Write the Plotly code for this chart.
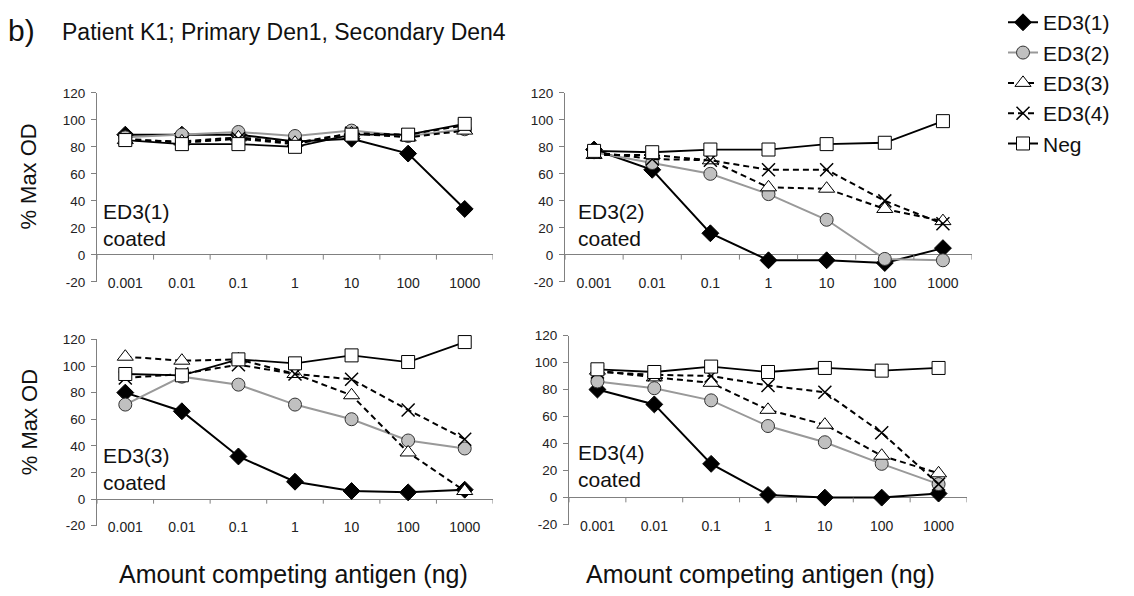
import plotly.graph_objects as go

# ---------------- data ----------------
categories = ["0.001", "0.01", "0.1", "1", "10", "100", "1000"]
series_names = ["ED3(1)", "ED3(2)", "ED3(3)", "ED3(4)", "Neg"]
y_ticks = [-20, 0, 20, 40, 60, 80, 100, 120]
y_tick_text = ["-20", "0", "20", "40", "60", "80", "100", "120"]

# Panel: ED3(1) coated
c1_ed31 = [89, 89, 89, 84, 86, 75, 34]
c1_ed32 = [87, 89, 91, 88, 92, 88, 93]
c1_ed33 = [85, 84, 87, 83, 90, 87, 92]
c1_ed34 = [86, 83, 86, 82, 90, 89, 96]
c1_neg = [85, 82, 82, 80, 89, 89, 97]

# Panel: ED3(2) coated
c2_ed31 = [78, 63, 16, -4, -4, -6, 5]
c2_ed32 = [76, 68, 60, 45, 26, -3, -4]
c2_ed33 = [74, 74, 70, 50, 49, 34, 25]
c2_ed34 = [76, 71, 70, 63, 63, 40, 23]
c2_neg = [77, 76, 78, 78, 82, 83, 99]

# Panel: ED3(3) coated
c3_ed31 = [80, 66, 32, 13, 6, 5, 7]
c3_ed32 = [71, 92, 86, 71, 60, 44, 38]
c3_ed33 = [107, 104, 105, 94, 78, 35, 6]
c3_ed34 = [91, 94, 101, 94, 90, 67, 45]
c3_neg = [94, 93, 105, 102, 108, 103, 118]

# Panel: ED3(4) coated
c4_ed31 = [80, 69, 25, 2, 0, 0, 3]
c4_ed32 = [86, 81, 72, 53, 41, 25, 10]
c4_ed33 = [94, 89, 85, 65, 54, 31, 18]
c4_ed34 = [93, 91, 90, 83, 78, 48, 10]
c4_neg = [95, 93, 97, 93, 96, 94, 96]

panel_labels = ["ED3(1)<br>coated", "ED3(2)<br>coated", "ED3(3)<br>coated", "ED3(4)<br>coated"]
panel_data = [
    [c1_ed31, c1_ed32, c1_ed33, c1_ed34, c1_neg],
    [c2_ed31, c2_ed32, c2_ed33, c2_ed34, c2_neg],
    [c3_ed31, c3_ed32, c3_ed33, c3_ed34, c3_neg],
    [c4_ed31, c4_ed32, c4_ed33, c4_ed34, c4_neg],
]

# ---------------- styling ----------------
W, H = 1134, 596
FONT = "Liberation Sans, Arial, sans-serif"
AXIS_GRAY = "#808080"

styles = [
    dict(line=dict(color="black", width=2),
         marker=dict(symbol="diamond", size=13, color="black", line=dict(color="black", width=1))),
    dict(line=dict(color="#999999", width=2),
         marker=dict(symbol="circle", size=13, color="#c0c0c0", line=dict(color="#333333", width=1))),
    dict(line=dict(color="black", width=2, dash="6px,4px"),
         marker=dict(symbol="triangle-up", size=14, color="white", line=dict(color="black", width=1))),
    dict(line=dict(color="black", width=2, dash="6px,4px"),
         marker=dict(symbol="x-thin", size=13, color="black", line=dict(color="black", width=1.5))),
    dict(line=dict(color="black", width=1.8),
         marker=dict(symbol="square", size=13, color="white", line=dict(color="black", width=1))),
]

# pixel boxes for the four panels: (x_left, x_right, y_top, y_bottom)
boxes = [
    (97, 493, 88, 282),
    (565, 972, 88, 282),
    (97, 493, 341, 532),
    (569, 967, 337, 531),
]
# panel label top-left positions in px
label_pos = [(101, 196), (576, 196), (101, 446), (576, 443)]

fig = go.Figure()
xidx = list(range(len(categories)))

for p, data in enumerate(panel_data):
    ax = "" if p == 0 else str(p + 1)
    for s, (name, vals) in enumerate(zip(series_names, data)):
        fig.add_trace(go.Scatter(
            x=xidx, y=vals, mode="lines+markers", name=name,
            legendgroup=name, showlegend=(p == 0),
            xaxis="x" + ax, yaxis="y" + ax, cliponaxis=False,
            **styles[s]))
    x0, x1, yt, yb = boxes[p]
    fig.layout["xaxis" + ax] = dict(
        domain=[x0 / W, x1 / W], anchor="y" + ax,
        range=[-0.5, len(categories) - 0.5],
        tickvals=xidx, ticktext=categories, ticklabelstandoff=-9,
        showline=False, showgrid=False, zeroline=False, ticks="",
        tickfont=dict(family=FONT, size=14, color="#222"), fixedrange=True)
    fig.layout["yaxis" + ax] = dict(
        domain=[1 - yb / H, 1 - yt / H], anchor="x" + ax,
        range=[-20, 120], tickvals=y_ticks, ticktext=y_tick_text,
        showline=True, linecolor=AXIS_GRAY, linewidth=1,
        ticks="outside", ticklen=5, tickcolor=AXIS_GRAY, ticklabelstandoff=3,
        showgrid=False, zeroline=True, zerolinecolor=AXIS_GRAY, zerolinewidth=1,
        tickfont=dict(family=FONT, size=13.5, color="#222"), fixedrange=True)
    # category boundary tick marks on the y=0 axis line
    for b in range(len(categories) + 1):
        fig.add_shape(type="line", xref="x" + ax, yref="y" + ax,
                      x0=b - 0.5, x1=b - 0.5, y0=0, y1=-3.5,
                      line=dict(color=AXIS_GRAY, width=1))
    # panel label
    lx, ly = label_pos[p]
    fig.add_annotation(text=panel_labels[p], xref="paper", yref="paper",
                       x=lx / W, y=1 - ly / H,
                       xanchor="left", yanchor="top", align="left", showarrow=False,
                       font=dict(family=FONT, size=21, color="#111"))

# y axis titles
for yc in [174, 426]:
    fig.add_annotation(text="% Max OD", xref="paper", yref="paper",
                       x=29 / W, y=1 - yc / H, textangle=-90, showarrow=False,
                       xanchor="center", yanchor="middle",
                       font=dict(family=FONT, size=22, color="#111"))
# x axis titles
for xc in [293, 760]:
    fig.add_annotation(text="Amount competing antigen (ng)", xref="paper", yref="paper",
                       x=xc / W, y=1 - 582 / H, showarrow=False,
                       xanchor="center", yanchor="middle",
                       font=dict(family=FONT, size=25, color="#111"))
# titles
fig.add_annotation(text="b)", xref="paper", yref="paper", x=6 / W, y=1 - 24 / H,
                   xanchor="left", yanchor="middle", showarrow=False,
                   font=dict(family=FONT, size=30, color="#111"))
fig.add_annotation(text="Patient K1; Primary Den1, Secondary Den4", xref="paper", yref="paper",
                   x=60 / W, y=1 - 26 / H, xanchor="left", yanchor="middle", showarrow=False,
                   font=dict(family=FONT, size=23, color="#111"))

fig.update_layout(
    width=W, height=H, margin=dict(l=0, r=0, t=0, b=0),
    paper_bgcolor="white", plot_bgcolor="white",
    showlegend=True,
    legend=dict(x=1003 / W, y=1 + 5 / H, xanchor="left", yanchor="top",
                font=dict(family=FONT, size=21, color="#111"),
                bgcolor="rgba(0,0,0,0)", tracegroupgap=0, itemwidth=30),
)

fig.write_html("out.html")
